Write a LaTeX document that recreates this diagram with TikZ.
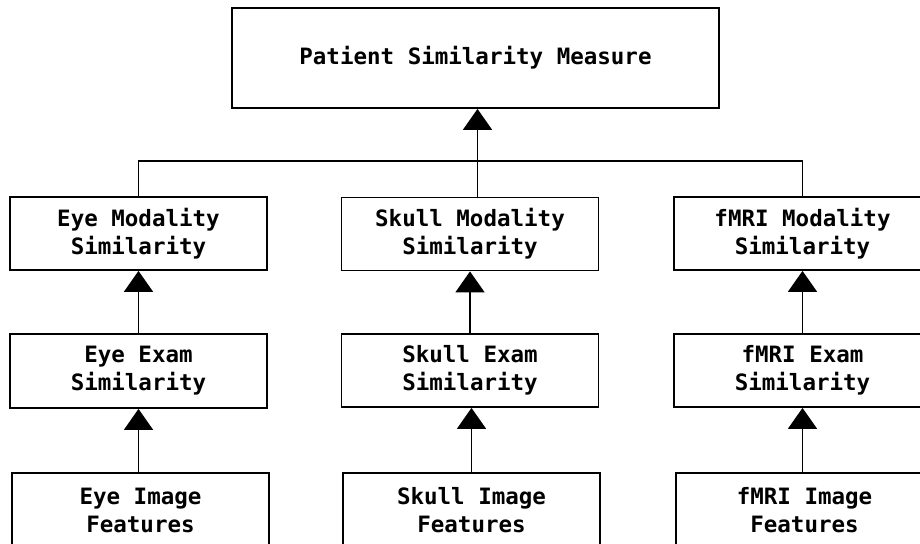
\documentclass[tikz,border=0pt]{standalone}
\usepackage{fontspec}
\setmonofont{DejaVu Sans Mono}
\usetikzlibrary{arrows.meta}
\begin{document}
\begin{tikzpicture}[x=1pt,y=-1pt,
  box/.style={draw, line width=1.8pt, rectangle, inner sep=0pt, align=center,
    minimum width=257pt, minimum height=73pt,
    font=\ttfamily\bfseries\fontsize{22.5}{28}\selectfont},
  link/.style={line width=1.8pt},
  arr/.style={line width=1.8pt, -{Triangle[width=29pt,length=21pt]}}]
\useasboundingbox (0,0) rectangle (920,543);
\clip (0,0) rectangle (920,543);
\fill[white] (0,0) rectangle (920,543);
% top
\node[box, minimum width=487pt, minimum height=100pt] (top) at (475.5,58) {\raisebox{-2pt}{Patient Similarity Measure}};
% modality
\node[box] (eyemod) at (138.5,233.5) {Eye Modality\\Similarity};
\node[box] (skullmod) at (470,234) {Skull Modality\\Similarity};
\node[box] (fmrimod) at (802.5,233.5) {fMRI Modality\\Similarity};
% exam
\node[box, minimum height=74pt] (eyeexam) at (138.5,371) {Eye Exam\\Similarity};
\node[box] (skullexam) at (470,370.5) {Skull Exam\\Similarity};
\node[box] (fmriexam) at (802.5,370.5) {fMRI Exam\\Similarity};
% image
\node[box, minimum height=74pt] (eyeimg) at (140.5,510) {Eye Image\\Features};
\node[box, minimum height=74pt] (skullimg) at (471.5,510) {Skull Image\\Features};
\node[box, minimum height=74pt] (fmriimg) at (804.5,510) {fMRI Image\\Features};
% bus
\coordinate (bus) at (477.5,161);
\draw[link] (eyemod.north) |- (bus) -| (fmrimod.north);
\draw[link] (skullmod.north -| bus) -- (bus);
\draw[arr] (bus) -- (top.south -| bus);
% column arrows
\draw[arr] (eyeexam.north) -- (eyemod.south);
\draw[arr] (skullexam.north) -- (skullmod.south);
\draw[arr] (fmriexam.north) -- (fmrimod.south);
\draw[arr] (eyeimg.north -| eyeexam.south) -- (eyeexam.south);
\draw[arr] (skullimg.north) -- (skullimg.north |- skullexam.south);
\draw[arr] (fmriimg.north -| fmriexam.south) -- (fmriexam.south);
\end{tikzpicture}
\end{document}
